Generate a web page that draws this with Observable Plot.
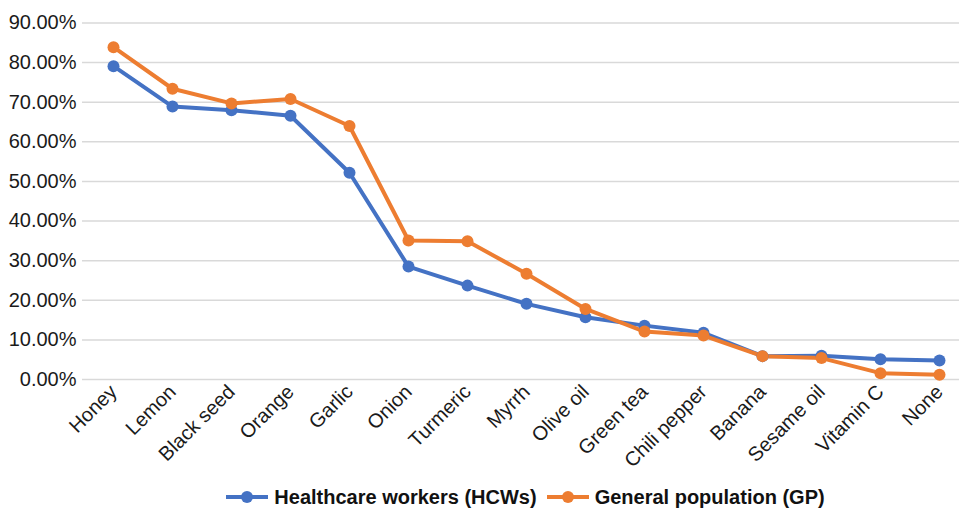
<!DOCTYPE html>
<html><head><meta charset="utf-8">
<script src="https://cdn.jsdelivr.net/npm/d3@7"></script>
<script src="https://cdn.jsdelivr.net/npm/@observablehq/plot@0.6"></script>
<style>
body{margin:0;background:#fff;font-family:"Liberation Sans",Arial,sans-serif;}
#legend{display:flex;justify-content:center;align-items:center;height:44px;padding-left:90px;font-weight:bold;font-size:20px;color:#111;}
.item{display:flex;align-items:center;margin:0 4px;}
.item svg{margin-right:4px;}
</style></head><body>
<div id="chart"></div>
<div id="legend"></div>
<script>
const categories = ["Honey","Lemon","Black seed","Orange","Garlic","Onion","Turmeric","Myrrh","Olive oil","Green tea","Chili pepper","Banana","Sesame oil","Vitamin C","None"];
const hcw = [79.1,68.9,68.0,66.6,52.2,28.5,23.7,19.1,15.7,13.6,11.8,5.9,6.0,5.1,4.8];
const gp  = [83.9,73.4,69.7,70.8,64.0,35.1,34.9,26.7,17.8,12.1,11.1,5.9,5.4,1.6,1.2];
const seriesNames = ["Healthcare workers (HCWs)","General population (GP)"];
const colors = ["#4472C4","#ED7D31"];
const yTicks = [0,10,20,30,40,50,60,70,80,90];

const data = [];
categories.forEach((c,i)=>{
  data.push({cat:c, v:hcw[i], s:seriesNames[0]});
  data.push({cat:c, v:gp[i], s:seriesNames[1]});
});

const chart = Plot.plot({
  width: 959, height: 475,
  marginLeft: 82, marginRight: 0, marginTop: 22.5, marginBottom: 96,
  style: {fontFamily: '"Liberation Sans", Arial, sans-serif', fontSize: "20px", color: "#1a1a1a", background: "#fff"},
  x: {type: "point", domain: categories, padding: 0.5, range: [82, 970], label: null},
  y: {domain: [0, 90], ticks: yTicks, label: null},
  color: {domain: seriesNames, range: colors},
  marks: [
    Plot.ruleY(yTicks, {stroke: "#d9d9d9", strokeWidth: 1.5}),
    Plot.axisY({ticks: yTicks, tickSize: 0, tickPadding: 6, tickFormat: d => d.toFixed(2) + "%", fontSize: 20, label: null}),
    Plot.axisX({tickSize: 0, tickRotate: -45, tickPadding: 9, fontSize: 20, label: null}),
    Plot.line(data, {x: "cat", y: "v", z: "s", stroke: "s", strokeWidth: 4}),
    Plot.dot(data, {x: "cat", y: "v", fill: "s", r: 6})
  ]
});
document.getElementById("chart").appendChild(chart);

const legend = document.getElementById("legend");
seriesNames.forEach((n,i)=>{
  const it = document.createElement("div");
  it.className = "item";
  it.innerHTML = `<svg width="46" height="16"><line x1="2" y1="8" x2="44" y2="8" stroke="${colors[i]}" stroke-width="4"/><circle cx="23" cy="8" r="6" fill="${colors[i]}"/></svg><span>${n}</span>`;
  legend.appendChild(it);
});
</script>
</body></html>
